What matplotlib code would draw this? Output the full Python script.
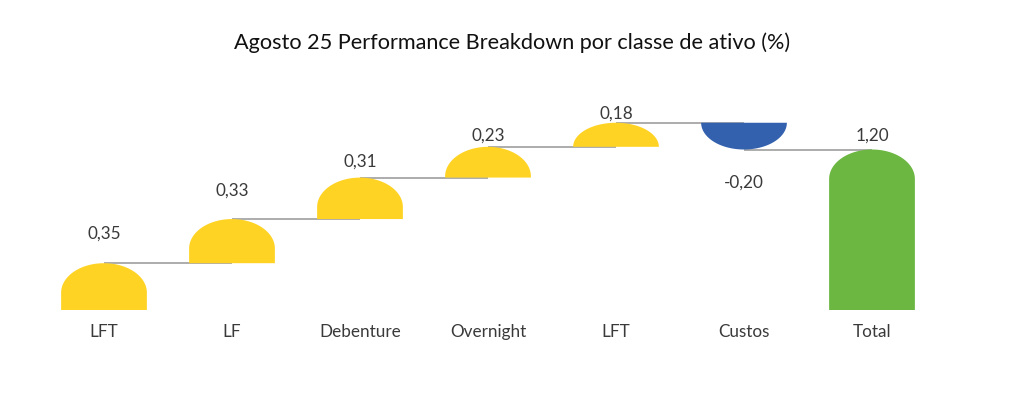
import numpy as np
import matplotlib
matplotlib.use("Agg")
import matplotlib.pyplot as plt
from matplotlib.patches import Polygon

# ---- data ----
categories = ["LFT", "LF", "Debenture", "Overnight", "LFT", "Custos", "Total"]
values = [0.35, 0.33, 0.31, 0.23, 0.18, -0.20, 1.20]
value_labels = ["0,35", "0,33", "0,31", "0,23", "0,18", "-0,20", "1,20"]
is_total = [False, False, False, False, False, False, True]
title = "Agosto 25 Performance Breakdown por classe de ativo (%)"

# ---- style ----
C_POS = "#FFD324"
C_NEG = "#3461AE"
C_TOT = "#6CB741"
C_LINE = "#A6A6A6"
TXT = "#3A3A3A"
FONT = ["Lato", "DejaVu Sans"]
label_offsets_px = [30, 28, 16, 11, 9, -33, 14]

plt.rcParams["font.family"] = FONT

fig = plt.figure(figsize=(10.24, 3.99), dpi=100)
ax = fig.add_axes([40 / 1024, 89 / 399, 896 / 1024, 214 / 399])
ax.set_xlim(-0.5, 6.5)
ax.set_ylim(0, 1.6)

width = 0.67
ry_max = 0.22

def cap_shape(xc, y_base, y_tip):
    s = 1 if y_tip >= y_base else -1
    h = abs(y_tip - y_base)
    ry = min(h, ry_max)
    rx = width / 2
    cy = y_tip - s * ry
    t = np.linspace(np.pi, 0, 80)
    arc = np.column_stack([xc + rx * np.cos(t), cy + s * ry * np.sin(t)])
    pts = [(xc - rx, y_base), (xc - rx, cy)] + arc.tolist() + [(xc + rx, cy), (xc + rx, y_base)]
    return pts

cum = 0.0
starts, ends = [], []
for v, tot in zip(values, is_total):
    if tot:
        s, e = 0.0, v
        cum = v
    else:
        s, e = cum, cum + v
        cum = e
    starts.append(s)
    ends.append(e)

for i, (s, e, tot) in enumerate(zip(starts, ends, is_total)):
    col = C_TOT if tot else (C_POS if e >= s else C_NEG)
    ax.add_patch(Polygon(cap_shape(i, s, e), closed=True, facecolor=col,
                         edgecolor="none", zorder=2))
    if i < len(values) - 1:
        ax.plot([i, i + 1], [e, e], color=C_LINE, lw=1.3, zorder=1,
                solid_capstyle="butt")
    ax.annotate(value_labels[i], (i, e), xytext=(0, label_offsets_px[i] * 0.72),
                textcoords="offset points", ha="center", va="center",
                fontsize=12.3, color=TXT)

ax.set_xticks(range(len(categories)))
ax.set_xticklabels(categories, fontsize=12.3, color=TXT)
ax.tick_params(axis="x", length=0, pad=10)
ax.set_yticks([])
for sp in ax.spines.values():
    sp.set_visible(False)

fig.text(0.5, 1 - 43 / 399, title, ha="center", va="center", fontsize=15.6, color="#111111")

fig.savefig("out.png", dpi=100)
